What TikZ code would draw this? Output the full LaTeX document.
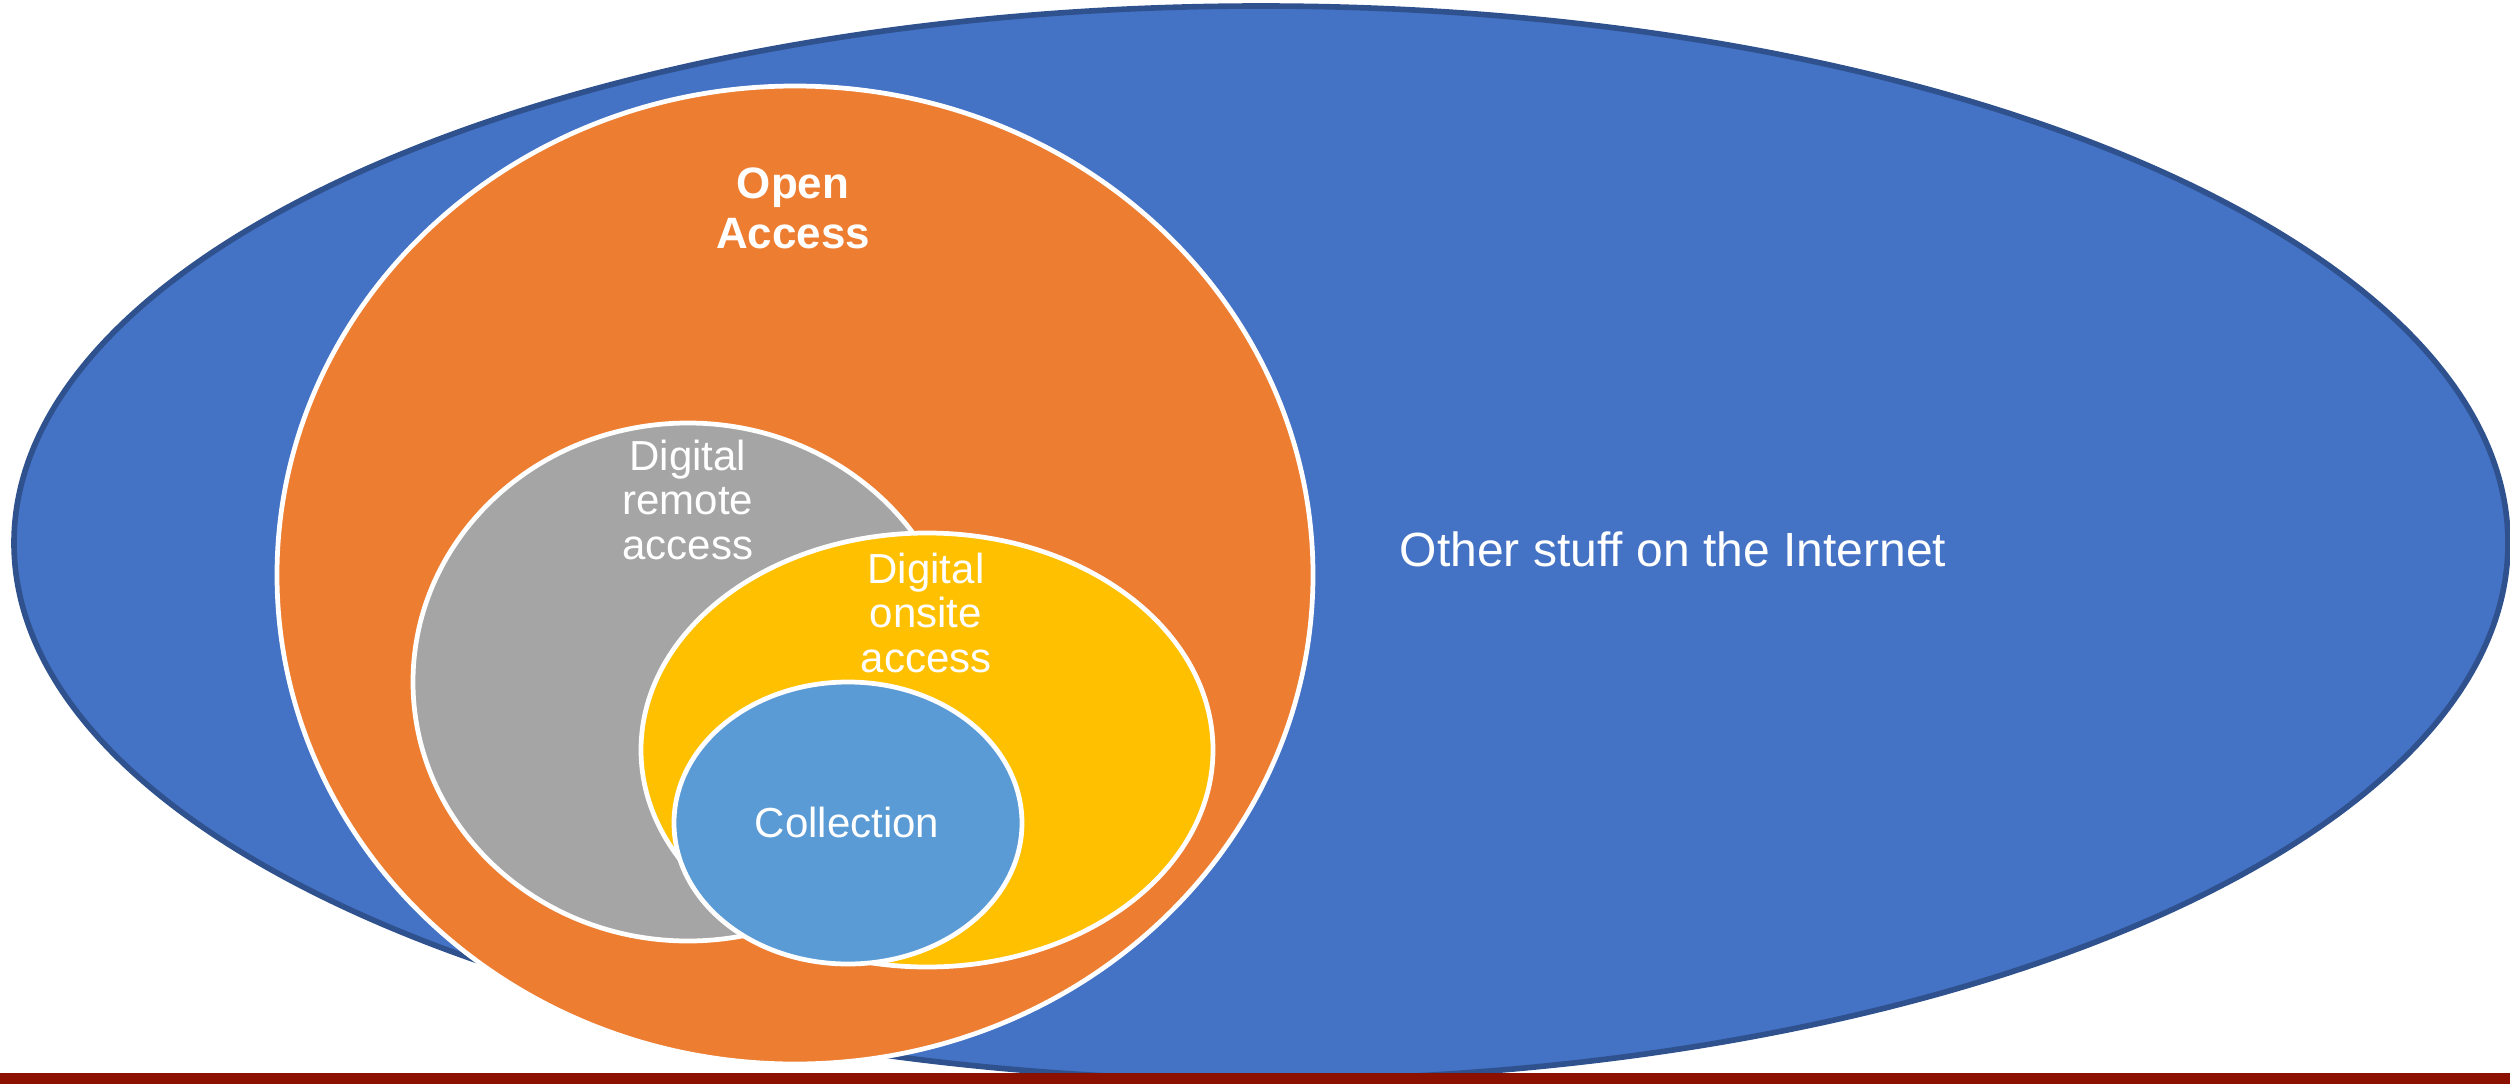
\documentclass[tikz,border=0pt]{standalone}
\usepackage{fontspec}
\setmainfont{Liberation Sans}
\definecolor{bigblue}{RGB}{68,114,196}
\definecolor{bigblueedge}{RGB}{47,82,143}
\definecolor{oaorange}{RGB}{237,125,49}
\definecolor{remgray}{RGB}{165,165,165}
\definecolor{onyellow}{RGB}{255,192,0}
\definecolor{colblue}{RGB}{91,155,213}
\definecolor{barred}{RGB}{139,16,0}
\tikzset{
  setshape/.style={draw=white, line width=1.35pt},
  lbl/.style={text=white, inner sep=0pt, anchor=base, font=\fontsize{11.95pt}{12.8pt}\selectfont},
}
\newcommand{\stackedlines}[1]{\begin{tabular}[t]{@{}c@{}}#1\end{tabular}}
\begin{document}
\begin{tikzpicture}
\useasboundingbox (0,0) rectangle (25.10,10.84);
% outer set
\draw[fill=bigblue, draw=bigblueedge, line width=1.6pt] (12.61,5.41) ellipse [x radius=12.47, y radius=5.37];
% nested sets
\draw[setshape, fill=oaorange] (7.95,5.09) ellipse [x radius=5.18, y radius=4.89];
\draw[setshape, fill=remgray] (6.88,4.02) ellipse [x radius=2.75, y radius=2.59];
\draw[setshape, fill=onyellow] (9.27,3.34) ellipse [x radius=2.86, y radius=2.17];
\draw[setshape, fill=colblue] (8.48,2.61) ellipse [x radius=1.74, y radius=1.41];
% bottom bar
\fill[barred] (0,0) rectangle (25.10,0.115);
% labels
\node[lbl, font=\fontsize{12.5pt}{14.23pt}\selectfont\bfseries] (oa) at (7.93,8.86) {\stackedlines{Open\\Access}};
\node[lbl] (dra) at (6.88,6.14) {\stackedlines{Digital\\remote\\access}};
\node[lbl] (doa) at (9.26,5.01) {\stackedlines{Digital\\onsite\\access}};
\node[lbl] (col) at (8.47,2.47) {Collection};
\node[lbl, font=\fontsize{13.66pt}{15pt}\selectfont] (other) at (16.73,5.18) {Other stuff on the Internet};
\end{tikzpicture}
\end{document}
